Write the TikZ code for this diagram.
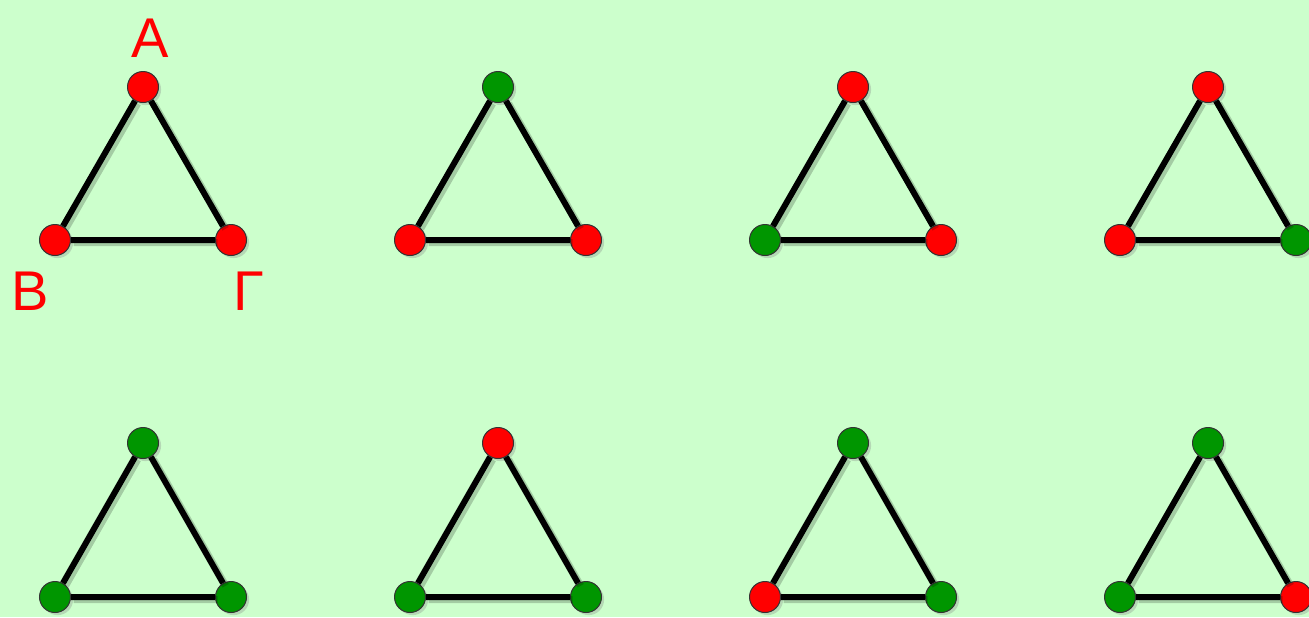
\documentclass[tikz,border=0pt]{standalone}
\usepackage{fontspec}
\setsansfont{Liberation Sans}
\usetikzlibrary{shadows}
\definecolor{bgmint}{RGB}{204,255,204}
\definecolor{vred}{RGB}{255,0,0}
\definecolor{vgreen}{RGB}{0,150,0}

\begin{document}
\begin{tikzpicture}[x=0.5pt, y=-0.5pt,
  vert/.style={circle, minimum size=15.5pt, inner sep=0pt, draw=black!80, line width=0.5pt,
    drop shadow={shadow xshift=1.3pt, shadow yshift=-1.3pt, opacity=0.3}},
  rv/.style={vert, fill=vred},
  gv/.style={vert, fill=vgreen},
  edge/.style={draw=black, line width=3pt,
    preaction={draw=black, opacity=0.2, line width=3.6pt, transform canvas={shift={(1.3pt,-1.3pt)}}}},
  lbl/.style={font=\sffamily\fontsize{28}{28}\selectfont, text=vred}]
\fill[bgmint] (0,0) rectangle (1309,617);
\useasboundingbox (0,0) rectangle (1309,617);
% top row
\node[rv] (a1) at (143,87) {}; \node[rv] (b1) at (55,240) {}; \node[rv] (g1) at (231,240) {};
\node[gv] (a2) at (498,87) {}; \node[rv] (b2) at (410,240) {}; \node[rv] (g2) at (586,240) {};
\node[rv] (a3) at (853,87) {}; \node[gv] (b3) at (765,240) {}; \node[rv] (g3) at (941,240) {};
\node[rv] (a4) at (1208,87) {}; \node[rv] (b4) at (1120,240) {}; \node[gv] (g4) at (1296,240) {};
% bottom row
\node[gv] (a5) at (143,443) {}; \node[gv] (b5) at (55,597) {}; \node[gv] (g5) at (231,597) {};
\node[rv] (a6) at (498,443) {}; \node[gv] (b6) at (410,597) {}; \node[gv] (g6) at (586,597) {};
\node[gv] (a7) at (853,443) {}; \node[rv] (b7) at (765,597) {}; \node[gv] (g7) at (941,597) {};
\node[gv] (a8) at (1208,443) {}; \node[gv] (b8) at (1120,597) {}; \node[rv] (g8) at (1296,597) {};
\foreach \t in {1,...,8}
  \draw[edge] (a\t) -- (b\t) -- (g\t) -- (a\t);
% labels
\node[lbl] (la) at (150,38) {Α};
\node[lbl] (lb) at (30,291) {Β};
\node[lbl] (lg) at (249,291) {Γ};
\end{tikzpicture}
\end{document}
